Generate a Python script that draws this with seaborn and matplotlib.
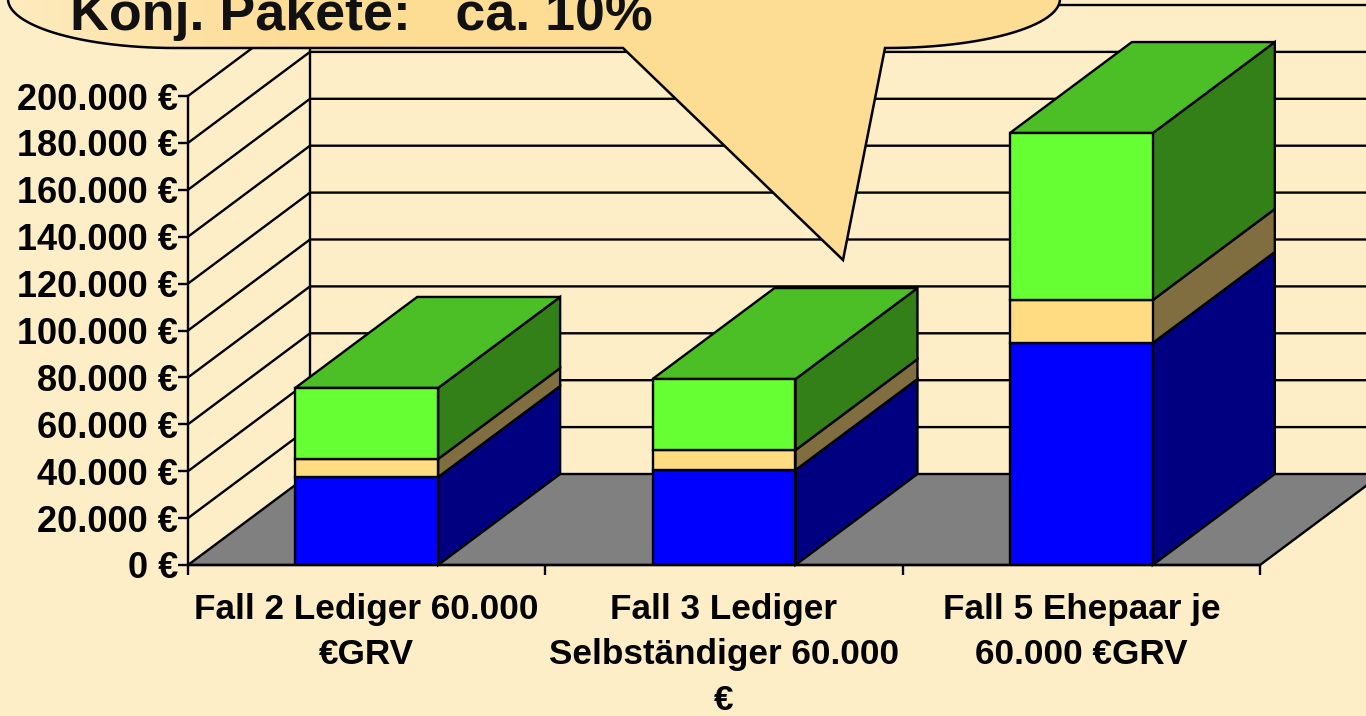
import numpy as np
import matplotlib
matplotlib.use("Agg")
import matplotlib.pyplot as plt
from matplotlib.colors import LinearSegmentedColormap
from matplotlib.patches import Polygon, PathPatch
from matplotlib.path import Path
import seaborn as sns

categories = ["Fall 2 Lediger 60.000\n€GRV",
              "Fall 3 Lediger\nSelbständiger 60.000\n€",
              "Fall 5 Ehepaar je\n60.000 €GRV"]
seg_blue = [37500, 40500, 94700]
seg_yellow = [7700, 8500, 18300]
seg_green = [30300, 30300, 71200]
y_ticks = list(range(0, 200001, 20000))
callout_text = "Konj. Pakete:   ca. 10%"

BG = "#FEEEC8"
front = ["#0000FF", "#FFDC82", "#66FF33"]
side = ["#000080", "#806E41", "#338019"]
top_green = "#4CBF26"

sns.set_theme(style="white")
plt.rcParams["font.family"] = ["Liberation Sans", "DejaVu Sans"]
plt.rcParams["font.weight"] = "bold"

W, H = 1366, 716
fig = plt.figure(figsize=(W / 100, H / 100), dpi=100, facecolor=BG)
ax = fig.add_axes([188 / W, (H - 565) / H, (1260 - 188) / W, (565 - 96) / H])
ax.set_facecolor("none")

lw = 1.7
bottom = np.zeros(3)
for vals, col in zip([seg_blue, seg_yellow, seg_green], front):
    sns.barplot(x=categories, y=vals, bottom=bottom, width=0.4, color=col, saturation=1,
                edgecolor="black", linewidth=lw, ax=ax, zorder=5)
    bottom = bottom + np.array(vals)
bars = list(ax.patches)

ax.set_xlim(-0.5, 2.5)
ax.set_ylim(0, 200000)

# depth of the pseudo 3D box: in category units and in euros
dx = 122 / (1072 / 3)
dy = 91 / 469 * 200000

# floor
ax.add_patch(Polygon([(-0.5, 0), (-0.5 + dx, dy), (2.5 + dx, dy), (2.5, 0)], closed=True,
                     facecolor="#808080", edgecolor="black", linewidth=lw,
                     clip_on=False, zorder=1))
# walls
for v in y_ticks[1:]:
    ax.plot([-0.5, -0.5 + dx, 2.5 + dx], [v, v + dy, v + dy], color="black", lw=lw,
            clip_on=False, zorder=1, solid_joinstyle="miter")
ax.plot([-0.5 + dx] * 2, [dy, 200000 + dy], color="black", lw=lw, clip_on=False, zorder=1)

# sides and tops derived from the seaborn bars
n = len(categories)
for i, p in enumerate(bars):
    x0, y0, w, h = p.get_x(), p.get_y(), p.get_width(), p.get_height()
    layer = i // n
    x1, y1 = x0 + w, y0 + h
    ax.add_patch(Polygon([(x1, y0), (x1 + dx, y0 + dy), (x1 + dx, y1 + dy), (x1, y1)],
                         closed=True, facecolor=side[layer], edgecolor="black",
                         linewidth=lw, clip_on=False, zorder=4))
    if layer == 2:
        ax.add_patch(Polygon([(x0, y1), (x0 + dx, y1 + dy), (x1 + dx, y1 + dy), (x1, y1)],
                             closed=True, facecolor=top_green, edgecolor="black",
                             linewidth=lw, clip_on=False, zorder=4))

# axes, ticks, labels
for s in ["top", "right"]:
    ax.spines[s].set_visible(False)
for s in ["left", "bottom"]:
    ax.spines[s].set_color("black")
    ax.spines[s].set_linewidth(lw)
    ax.spines[s].set_zorder(6)
ax.set_yticks(y_ticks)
ax.set_yticklabels([f"{v:,}".replace(",", ".") + " €" for v in y_ticks])
ax.tick_params(axis="y", left=True, length=7.2, width=lw, color="black", pad=0,
               labelsize=26, labelcolor="black")
ax.set_xticks(range(n))
ax.set_xticklabels(categories, linespacing=1.48)
ax.tick_params(axis="x", which="major", bottom=False, length=0, pad=20,
               labelsize=25.3, labelcolor="black")
ax.set_xticks([-0.5, 0.5, 1.5, 2.5], minor=True)
ax.tick_params(axis="x", which="minor", bottom=True, length=7.2, width=lw, color="black")
for t in ax.get_xticklabels() + ax.get_yticklabels():
    t.set_fontweight("bold")

# speech bubble in pixel coordinates of the slide
ov = fig.add_axes([0, 0, 1, 1])
ov.axis("off")
ov.patch.set_alpha(0)
t = np.linspace(0, np.pi / 2, 30)
left_arc = np.c_[175 - 167 * np.cos(t), -1 + 49 * np.sin(t)]
right_arc = np.c_[887 + 173 * np.sin(t), -1 + 49 * np.cos(t)]
verts = np.vstack([[[8, -30]], left_arc, [[623, 48], [843, 260], [885, 48]], right_arc, [[1060, -30]]])
path = Path(np.vstack([verts, verts[:1]]), closed=True)
patch = PathPatch(path, facecolor="none", edgecolor="black", linewidth=1.8, zorder=2,
                  joinstyle="miter")
cmap = LinearSegmentedColormap.from_list("b", ["#FEEBC0", "#FDDC94"])
im = ov.imshow(np.linspace(0, 1, 64)[None, :], extent=[0, 300, H, 0], cmap=cmap, aspect="auto", zorder=1)
im2 = ov.imshow(np.ones((1, 2)), extent=[300, W, H, 0], cmap=cmap, vmin=0, vmax=1, aspect="auto", zorder=1)
ov.set_xlim(0, W)
ov.set_ylim(H, 0)
ov.add_patch(patch)
im.set_clip_path(path, ov.transData)
im2.set_clip_path(path, ov.transData)
ov.text(70, 30, callout_text, fontsize=38.7, fontweight="bold", color="#111111", ha="left",
        va="baseline", zorder=3)

fig.savefig("out.png", dpi=100, facecolor=BG)
